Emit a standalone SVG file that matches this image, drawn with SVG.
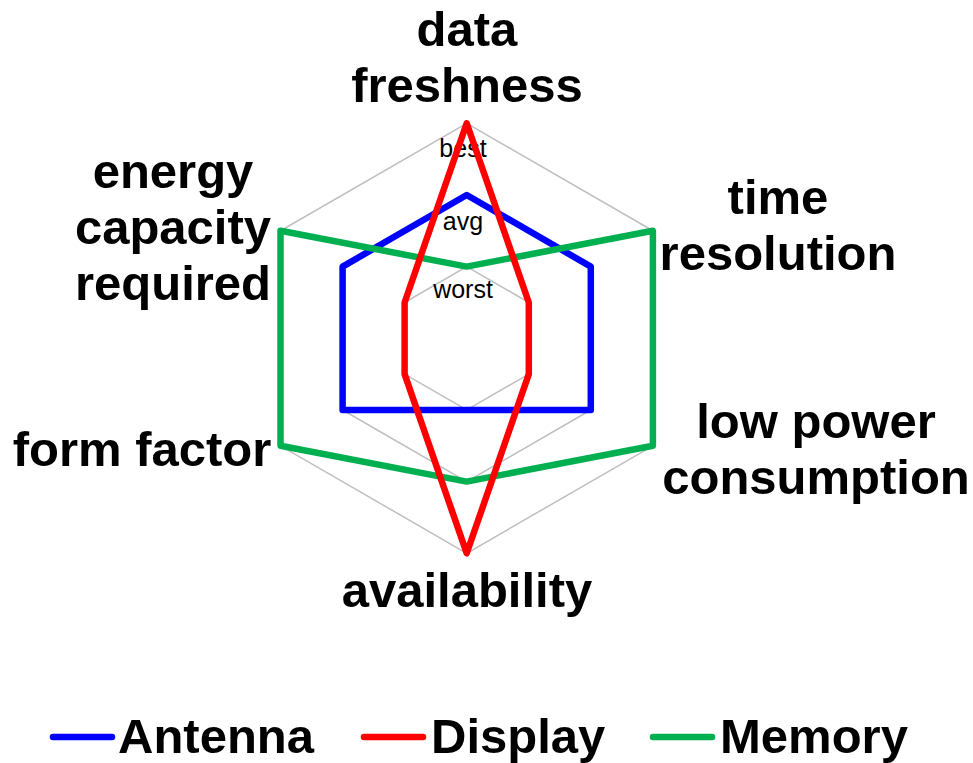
<svg xmlns="http://www.w3.org/2000/svg" width="973" height="763" viewBox="0 0 973 763">
  <style>
    .grid { fill: none; stroke: #bfbfbf; stroke-width: 1.5; }
    .series { fill: none; stroke-width: 6.5; stroke-linejoin: round; stroke-linecap: round; }
    .antenna { stroke: #0000ff; }
    .display { stroke: #ff0000; }
    .memory { stroke: #00b050; }
    .axis { font-family: "Liberation Sans", Arial, sans-serif; font-weight: bold; font-size: 49px; fill: #000; text-anchor: middle; }
    .tick { font-family: "Liberation Sans", Arial, sans-serif; font-size: 25px; fill: #000; text-anchor: middle; }
    .legend { font-family: "Liberation Sans", Arial, sans-serif; font-weight: bold; font-size: 49px; fill: #000; }
  </style>

  <!-- radar grid: three rings (worst / avg / best) -->
  <g id="grid">
    <polygon class="grid" points="466.7,266.6 528.8,302.5 528.8,374.1 466.7,410 404.6,374.1 404.6,302.5"/>
    <polygon class="grid" points="466.7,195 590.8,266.6 590.8,410 466.7,481.6 342.6,410 342.6,266.6"/>
    <polygon class="grid" points="466.7,123.3 652.9,230.8 652.9,445.8 466.7,553.3 280.5,445.8 280.5,230.8"/>
  </g>

  <g id="scale-labels">
    <text class="tick" x="463" y="157">best</text>
    <text class="tick" x="463" y="230">avg</text>
    <text class="tick" x="463" y="298">worst</text>
  </g>

  <!-- data series -->
  <g id="connectors">
    <polygon id="series-antenna" class="series antenna" points="466.7,195 590.8,266.6 590.8,410 466.7,410 342.6,410 342.6,266.6"/>
    <polygon id="series-memory" class="series memory" points="466.7,266.6 652.9,230.8 652.9,445.8 466.7,481.6 280.5,445.8 280.5,230.8"/>
    <polygon id="series-display" class="series display" points="466.7,123.3 528.8,302.5 528.8,374.1 466.7,553.3 404.6,374.1 404.6,302.5"/>
  </g>

  <!-- axis labels -->
  <g id="axis-data-freshness">
    <text class="axis" x="467" y="46">data</text>
    <text class="axis" x="467" y="102">freshness</text>
  </g>
  <g id="axis-time-resolution">
    <text class="axis" x="778" y="214">time</text>
    <text class="axis" x="778" y="270">resolution</text>
  </g>
  <g id="axis-low-power">
    <text class="axis" x="816" y="438">low power</text>
    <text class="axis" x="816" y="494">consumption</text>
  </g>
  <g id="axis-availability">
    <text class="axis" x="467" y="607">availability</text>
  </g>
  <g id="axis-form-factor">
    <text class="axis" x="142" y="466">form factor</text>
  </g>
  <g id="axis-energy-capacity">
    <text class="axis" x="173" y="188">energy</text>
    <text class="axis" x="173" y="244">capacity</text>
    <text class="axis" x="173" y="300">required</text>
  </g>

  <!-- legend -->
  <g id="legend-antenna">
    <line class="series antenna" x1="53" y1="737" x2="112" y2="737"/>
    <text class="legend" x="118" y="753">Antenna</text>
  </g>
  <g id="legend-display">
    <line class="series display" x1="364" y1="737" x2="423" y2="737"/>
    <text class="legend" x="431" y="753">Display</text>
  </g>
  <g id="legend-memory">
    <line class="series memory" x1="653" y1="737" x2="712" y2="737"/>
    <text class="legend" x="720" y="753">Memory</text>
  </g>
</svg>
